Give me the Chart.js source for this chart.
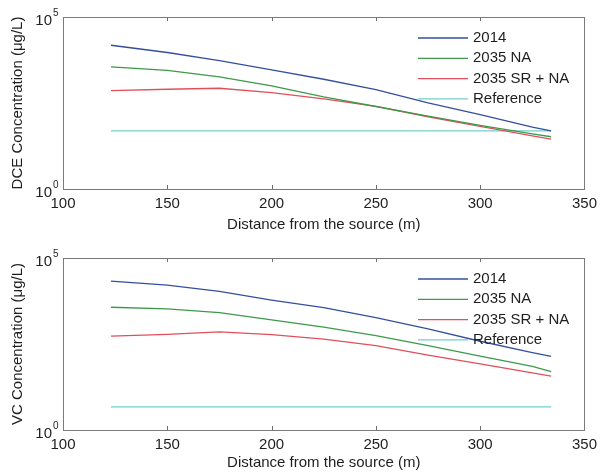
<!DOCTYPE html>
<html>
<head>
<meta charset="utf-8">
<script src="https://cdn.jsdelivr.net/npm/chart.js@4.4.1/dist/chart.umd.min.js"></script>
<style>
  html, body { margin: 0; padding: 0; background: #fff; overflow: hidden; }
  #wrap { position: relative; width: 603px; height: 476px; }
  canvas { position: absolute; left: 0; }
</style>
</head>
<body>
<div id="wrap">
  <canvas id="dceChart" width="603" height="238" style="top:0px"></canvas>
  <canvas id="vcChart" width="603" height="238" style="top:241px"></canvas>
</div>
<script>
// Distance along the plume (m)
const distance = [123, 150, 175, 200, 225, 250, 275, 300, 325, 334];
const referenceDistance = [123, 334];
const seriesNames = ['2014', '2035 NA', '2035 SR + NA', 'Reference'];
const xTicks = [100, 150, 200, 250, 300, 350];

// DCE concentrations (ug/L)
const dce2014   = [15100, 9300, 5400, 2900, 1550, 780, 320, 145, 63, 49];
const dce2035NA = [3550, 2820, 1820, 1000, 480, 250, 132, 71, 40, 33];
const dce2035SR = [725, 795, 850, 630, 417, 251, 126, 66, 35, 28];
const dceReference = [49, 49];

// VC concentrations (ug/L)
const vc2014   = [21400, 16200, 10700, 6000, 3600, 1860, 870, 380, 178, 138];
const vc2035NA = [3700, 3300, 2570, 1590, 980, 550, 282, 141, 71, 50];
const vc2035SR = [537, 603, 708, 590, 437, 282, 151, 83, 46, 37];
const vcReference = [4.7, 4.7];

const lineColors = ['#34509c', '#3d9a4a', '#e0505c', '#72cccc'];
const TEXT = '#1e1e1e';
const FONT = "'Liberation Sans', Arial, sans-serif";

function points(xs, ys) {
  return xs.map((x, i) => ({ x: x, y: ys[i] }));
}

function datasets(series) {
  return series.map((s, i) => ({
    label: seriesNames[i],
    data: points(s.xs, s.ys),
    borderColor: lineColors[i],
    borderWidth: 1.3,
    pointRadius: 0,
    tension: 0,
    fill: false
  }));
}

// Box, inward tick marks, superscript y labels and in-plot legend
const axesDecor = {
  id: 'axesDecor',
  afterDraw(chart) {
    const ctx = chart.ctx;
    const ca = chart.chartArea;
    const xs = chart.scales.x;
    const ys = chart.scales.y;
    ctx.save();
    // ticks
    ctx.strokeStyle = '#6e6e6e';
    ctx.lineWidth = 1;
    ctx.beginPath();
    xTicks.forEach(v => {
      const px = Math.round(xs.getPixelForValue(v)) + 0.5;
      ctx.moveTo(px, ca.bottom); ctx.lineTo(px, ca.bottom - 4);
      ctx.moveTo(px, ca.top); ctx.lineTo(px, ca.top + 4);
    });
    ctx.stroke();
    // box
    ctx.strokeStyle = '#7a7a7a';
    ctx.strokeRect(Math.round(ca.left) + 0.5, Math.round(ca.top) + 0.5,
                   Math.round(ca.right - ca.left), Math.round(ca.bottom - ca.top));
    // y labels 10^0 and 10^5
    ctx.fillStyle = TEXT;
    [[1, '0'], [1e5, '5']].forEach(([v, exp]) => {
      const py = ys.getPixelForValue(v);
      ctx.font = '15px ' + FONT;
      ctx.textAlign = 'right';
      ctx.textBaseline = 'middle';
      ctx.fillText('10', ca.left - 11, py + 3.5);
      ctx.font = '10px ' + FONT;
      ctx.textAlign = 'left';
      ctx.fillText(exp, ca.left - 10, py - 4);
    });
    // legend
    ctx.font = '15px ' + FONT;
    ctx.textAlign = 'left';
    ctx.textBaseline = 'middle';
    chart.data.datasets.forEach((ds, i) => {
      const y = ca.top + 21 + i * 20.3;
      ctx.strokeStyle = ds.borderColor;
      ctx.lineWidth = 1.3;
      ctx.beginPath();
      ctx.moveTo(ca.left + 355, y); ctx.lineTo(ca.left + 405, y);
      ctx.stroke();
      ctx.fillStyle = TEXT;
      ctx.fillText(ds.label, ca.left + 410, y);
    });
    ctx.restore();
  }
};

function makeChart(id, yTitle, xTitlePad, series) {
  return new Chart(document.getElementById(id), {
    type: 'line',
    data: { datasets: datasets(series) },
    options: {
      responsive: false,
      animation: false,
      devicePixelRatio: 1,
      layout: { padding: { top: 17, right: 15, left: 0, bottom: 0 } },
      plugins: { legend: { display: false }, tooltip: { enabled: false } },
      scales: {
        x: {
          type: 'linear', min: 100, max: 350,
          afterBuildTicks: s => { s.ticks = xTicks.map(v => ({ value: v })); },
          afterFit: s => { s.height = 49; },
          grid: { display: false, drawTicks: false },
          border: { display: false },
          ticks: { color: TEXT, font: { family: FONT, size: 15 }, padding: 6, maxRotation: 0 },
          title: { display: true, text: 'Distance from the source (m)', color: TEXT,
                   font: { family: FONT, size: 15 }, padding: xTitlePad }
        },
        y: {
          type: 'logarithmic', min: 1, max: 1e5,
          afterFit: s => { s.width = 63; },
          grid: { display: false, drawTicks: false },
          border: { display: false },
          ticks: { display: false },
          title: { display: true, text: yTitle, color: TEXT,
                   font: { family: FONT, size: 15 }, padding: 9 }
        }
      }
    },
    plugins: [axesDecor]
  });
}

makeChart('dceChart', 'DCE Concentration (\u03bcg/L)', 4, [
  { xs: distance, ys: dce2014 },
  { xs: distance, ys: dce2035NA },
  { xs: distance, ys: dce2035SR },
  { xs: referenceDistance, ys: dceReference }
]);

makeChart('vcChart', 'VC Concentration (\u03bcg/L)', 7, [
  { xs: distance, ys: vc2014 },
  { xs: distance, ys: vc2035NA },
  { xs: distance, ys: vc2035SR },
  { xs: referenceDistance, ys: vcReference }
]);
</script>
</body>
</html>
